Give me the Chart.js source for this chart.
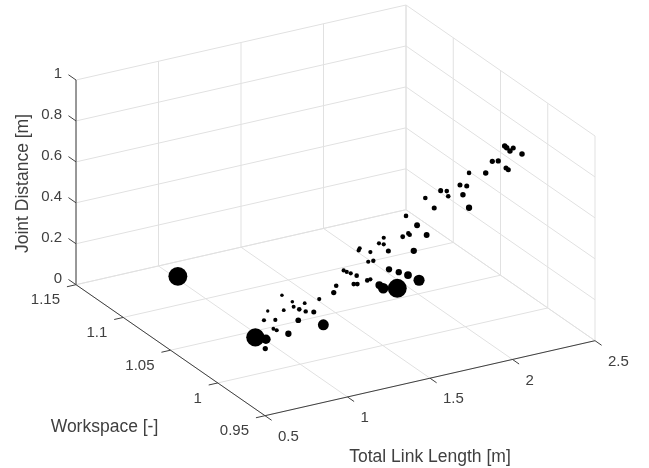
<!DOCTYPE html>
<html lang="en">
<head>
<meta charset="UTF-8">
<title>Joint Distance vs Workspace vs Total Link Length</title>
<script src="https://cdn.jsdelivr.net/npm/chart.js"></script>
<style>
    html, body { margin: 0; padding: 0; background: #fff; }
    canvas { display: block; }
</style>
</head>
<body>
<canvas id="chart" width="649" height="468"></canvas>
<script>
// Axis ticks
const lengthTicks = [0.5, 1, 1.5, 2, 2.5];
const workspaceTicks = [0.95, 1, 1.05, 1.1, 1.15];
const distanceTicks = [0, 0.2, 0.4, 0.6, 0.8, 1];

const lengthTickLabels = ['0.5', '1', '1.5', '2', '2.5'];
const workspaceTickLabels = ['0.95', '1', '1.05', '1.1', '1.15'];
const distanceTickLabels = ['0', '0.2', '0.4', '0.6', '0.8', '1'];

// Data. Depth is ambiguous in a single view,
// so the main cloud is read on the workspace = 1 plane.
const totalLength = [
    0.728, 0.792, 0.788, 0.837, 0.857, 0.928, 0.780, 0.849, 0.803, 0.900,
    0.889, 0.952, 0.960, 0.994, 1.033, 1.027, 1.082, 0.988, 1.140, 1.115,
    1.203, 1.218, 1.263, 1.282, 1.306, 1.342, 1.324, 1.346, 1.406, 1.425,
    1.412, 1.443, 1.354, 1.360, 1.425, 1.477, 1.506, 1.506, 1.534, 1.538,
    1.597, 1.653, 1.720, 1.588, 1.503, 1.479, 1.688, 1.621, 1.655, 1.663,
    1.766, 1.708, 1.641, 1.812, 1.758, 1.851, 1.888, 1.897, 1.986, 2.023,
    1.968, 2.009, 2.023, 2.124, 2.164, 2.200, 2.247, 2.261, 2.344, 2.239,
    2.251, 2.271, 2.291, 1.020
];
const workspace = [
    1, 1, 1, 1, 1, 1, 1, 1, 1, 1,
    1, 1, 1, 1, 1, 1, 1, 1, 1, 1,
    1, 1, 1, 1, 1, 1, 1, 1, 1, 1,
    1, 1, 1, 1, 1, 1, 1, 1, 1, 1,
    1, 1, 1, 1, 1, 1, 1, 1, 1, 1,
    1, 1, 1, 1, 1, 1, 1, 1, 1, 1,
    1, 1, 1, 1, 1, 1, 1, 1, 1, 1,
    1, 1, 1, 1.133
];
const jointDistance = [
    0.181, 0.160, 0.115, 0.203, 0.192, 0.162, 0.255, 0.244, 0.296, 0.282,
    0.357, 0.314, 0.288, 0.269, 0.252, 0.293, 0.240, 0.217, 0.167, 0.297,
    0.313, 0.343, 0.410, 0.399, 0.388, 0.370, 0.332, 0.328, 0.335, 0.337,
    0.425, 0.424, 0.491, 0.500, 0.470, 0.503, 0.493, 0.525, 0.455, 0.365,
    0.340, 0.316, 0.278, 0.263, 0.279, 0.299, 0.428, 0.509, 0.519, 0.511,
    0.491, 0.549, 0.607, 0.614, 0.673, 0.692, 0.683, 0.656, 0.647, 0.577,
    0.698, 0.686, 0.747, 0.728, 0.778, 0.773, 0.730, 0.719, 0.781, 0.839,
    0.828, 0.809, 0.820, 0
];
// Fourth variable, shown as marker size
const markerValue = [
    87, 45, 25, 18, 20, 30, 20, 20, 16, 18,
    17, 17, 19, 22, 21, 18, 24, 27, 52, 20,
    25, 22, 20, 20, 20, 22, 22, 23, 22, 20,
    20, 21, 20, 20, 20, 20, 20, 20, 24, 30,
    30, 37, 53, 90, 50, 37, 30, 23, 22, 22,
    28, 28, 22, 24, 22, 24, 22, 22, 26, 30,
    24, 24, 22, 26, 25, 25, 24, 24, 26, 26,
    26, 26, 24, 90
];

// View configuration
const VIEW = {
    width: 649,
    height: 468,
    originX: 265,
    originY: 415.7,
    lengthStep: [165, -37.5],
    workspaceStep: [-945, -655],
    distanceStep: 204.7,
    markerScale: 0.105
};

const GRID_COLOR = '#e1e1e1';
const AXIS_COLOR = '#404040';
const TEXT_COLOR = '#404040';
const TICK_FONT = '15px "Liberation Sans", Arial, sans-serif';
const TITLE_FONT = '17.5px "Liberation Sans", Arial, sans-serif';

const L_MIN = lengthTicks[0];
const L_MAX = lengthTicks[lengthTicks.length - 1];
const W_MIN = workspaceTicks[0];
const W_MAX = workspaceTicks[workspaceTicks.length - 1];
const D_MIN = distanceTicks[0];
const D_MAX = distanceTicks[distanceTicks.length - 1];

// Orthographic projection of the 3D box on to the 2D scales
function project(length, work, dist) {
    const l = length - L_MIN;
    const w = work - W_MIN;
    return {
        x: VIEW.originX + VIEW.lengthStep[0] * l + VIEW.workspaceStep[0] * w,
        y: VIEW.originY + VIEW.lengthStep[1] * l + VIEW.workspaceStep[1] * w - VIEW.distanceStep * dist
    };
}

function segment(a, b, color, order) {
    return {
        type: 'scatter',
        data: [project(a[0], a[1], a[2]), project(b[0], b[1], b[2])],
        showLine: true,
        borderColor: color,
        borderWidth: 1,
        pointRadius: 0,
        order: order
    };
}

const lines = [];

// Grid on the floor and the two back walls
lengthTicks.forEach(l => {
    lines.push(segment([l, W_MIN, D_MIN], [l, W_MAX, D_MIN], GRID_COLOR, 3));
    lines.push(segment([l, W_MAX, D_MIN], [l, W_MAX, D_MAX], GRID_COLOR, 3));
});
workspaceTicks.forEach(w => {
    lines.push(segment([L_MIN, w, D_MIN], [L_MAX, w, D_MIN], GRID_COLOR, 3));
    lines.push(segment([L_MAX, w, D_MIN], [L_MAX, w, D_MAX], GRID_COLOR, 3));
});
distanceTicks.forEach(d => {
    lines.push(segment([L_MIN, W_MAX, d], [L_MAX, W_MAX, d], GRID_COLOR, 3));
    lines.push(segment([L_MAX, W_MAX, d], [L_MAX, W_MIN, d], GRID_COLOR, 3));
});

// Axis lines and tick marks
lines.push(segment([L_MIN, W_MIN, D_MIN], [L_MAX, W_MIN, D_MIN], AXIS_COLOR, 2));
lines.push(segment([L_MIN, W_MIN, D_MIN], [L_MIN, W_MAX, D_MIN], AXIS_COLOR, 2));
lines.push(segment([L_MIN, W_MAX, D_MIN], [L_MIN, W_MAX, D_MAX], AXIS_COLOR, 2));
lengthTicks.forEach(l => {
    lines.push(segment([l, W_MIN, D_MIN], [l, W_MIN - 0.007, D_MIN], AXIS_COLOR, 2));
});
workspaceTicks.forEach(w => {
    lines.push(segment([L_MIN, w, D_MIN], [L_MIN - 0.055, w, D_MIN], AXIS_COLOR, 2));
});
distanceTicks.forEach(d => {
    lines.push(segment([L_MIN, W_MAX, d], [L_MIN, W_MAX + 0.008, d], AXIS_COLOR, 2));
});

const markers = {
    type: 'scatter',
    data: totalLength.map((l, i) => project(l, workspace[i], jointDistance[i])),
    backgroundColor: '#000',
    borderWidth: 0,
    pointRadius: markerValue.map(v => v * VIEW.markerScale),
    order: 1
};

// Tick labels and axis titles
const axisText = {
    id: 'axisText',
    afterDatasetsDraw(chart) {
        const { ctx, scales } = chart;
        const put = (text, x, y, align) => {
            ctx.textAlign = align;
            ctx.fillText(text, x, y);
        };
        const at = p => [scales.x.getPixelForValue(p.x), scales.y.getPixelForValue(p.y)];

        ctx.save();
        ctx.fillStyle = TEXT_COLOR;
        ctx.textBaseline = 'middle';

        ctx.font = TICK_FONT;
        lengthTicks.forEach((l, i) => {
            const [x, y] = at(project(l, W_MIN, D_MIN));
            put(lengthTickLabels[i], x + 13, y + 21, 'left');
        });
        workspaceTicks.forEach((w, i) => {
            const [x, y] = at(project(L_MIN, w, D_MIN));
            put(workspaceTickLabels[i], x - 16, y + 15.5, 'right');
        });
        distanceTicks.forEach((d, i) => {
            const [x, y] = at(project(L_MIN, W_MAX, d));
            put(distanceTickLabels[i], x - 14, y - 6, 'right');
        });

        ctx.font = TITLE_FONT;
        put('Total Link Length [m]', 430, 457, 'center');
        put('Workspace [-]', 104.5, 427, 'center');
        ctx.translate(23, 183.5);
        ctx.rotate(-Math.PI / 2);
        put('Joint Distance [m]', 0, 0, 'center');
        ctx.restore();
    }
};

new Chart(document.getElementById('chart'), {
    data: { datasets: [markers].concat(lines) },
    options: {
        responsive: false,
        animation: false,
        layout: { padding: 0, autoPadding: false },
        plugins: {
            legend: { display: false },
            tooltip: { enabled: false }
        },
        scales: {
            x: { type: 'linear', display: false, min: 0, max: VIEW.width },
            y: { type: 'linear', display: false, min: 0, max: VIEW.height, reverse: true }
        }
    },
    plugins: [axisText]
});
</script>
</body>
</html>
